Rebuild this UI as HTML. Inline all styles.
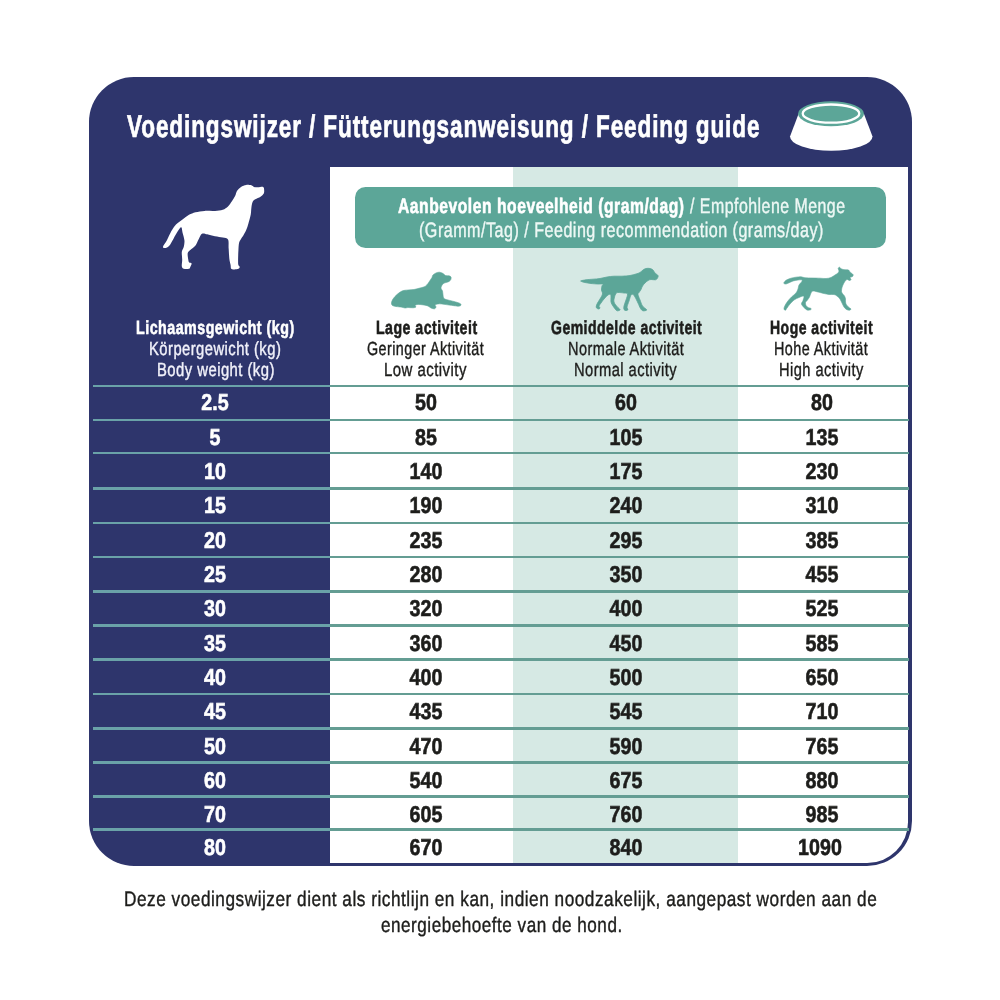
<!DOCTYPE html>
<html lang="nl"><head><meta charset="utf-8"><title>Voedingswijzer</title>
<style>
html,body{margin:0;padding:0;background:#fff}
body{width:1000px;height:1000px;position:relative;overflow:hidden;font-family:"Liberation Sans",sans-serif}
.card{position:absolute;left:88.6px;top:77.2px;width:823.2px;height:788.8px;background:#2e356c;border-radius:45px;overflow:hidden}
.white{position:absolute;left:241.2px;top:90.2px;width:578.4px;height:695.4px;background:#fff;border-bottom-right-radius:40.8px;overflow:hidden}
.mid{position:absolute;left:183.4px;top:0;width:224.6px;height:100%;background:#d6e9e4}
.banner{position:absolute;left:354.8px;top:187px;width:531.4px;height:61.3px;background:#5ca698;border-radius:10.5px}
.t{position:absolute;white-space:nowrap;text-rendering:geometricPrecision;line-height:1;height:1em;transform-origin:0 0}
.rows{position:absolute;left:0;top:0;width:1000px;height:1000px}
.row{position:absolute;left:93px;width:816px;height:34px}
.row i{position:absolute;left:0;top:0;width:100%;height:2.7px;background:linear-gradient(to right,#6aa2a8 0,#6aa2a8 236.8px,#649d93 236.8px)}
.nums{text-rendering:geometricPrecision;position:absolute;left:-93px;width:1000px;height:1em;font-size:23px;line-height:1;font-weight:700;color:#1d1d1b;-webkit-text-stroke:0.6px #1d1d1b}
.n{position:absolute;width:120px;text-align:center;transform:scaleX(0.855);transform-origin:50% 0;white-space:nowrap}
.n.c0{color:#fff;-webkit-text-stroke-color:#fff}
.art{position:absolute;left:0;top:0}
</style></head>
<body>
<div class="card"><div class="white"><div class="mid"></div></div></div>
<div class="banner"></div>
<svg class="art" width="1000" height="1000" viewBox="0 0 1000 1000">
<path fill="#fff" d="M163.0 246.7C163.2 245.4 165.5 242.8 166.9 240.2C168.3 237.6 169.9 233.7 171.4 231.1C173.0 228.5 174.2 226.5 176.0 224.6C177.8 222.7 180.3 221.0 182.5 219.4C184.7 217.8 186.8 216.0 189.0 214.8C191.2 213.7 192.9 212.9 195.5 212.2C198.1 211.6 201.3 211.2 204.6 210.9C207.8 210.7 212.0 211.2 215.0 210.9C218.0 210.7 220.6 210.4 222.8 209.7C225.0 208.9 226.5 207.8 228.0 206.4C229.5 205.0 230.7 202.9 231.9 201.2C233.1 199.5 234.3 197.7 235.1 196.0C236.0 194.3 236.1 192.3 237.1 190.8C238.1 189.3 239.5 187.9 241.0 186.9C242.5 185.9 244.5 185.2 246.2 184.9C247.9 184.7 250.1 185.0 251.4 185.3C252.7 185.7 252.9 186.6 254.0 186.9C255.1 187.2 256.4 187.3 257.9 187.3C259.4 187.3 262.1 186.5 263.1 186.9C264.1 187.3 264.0 188.4 264.1 189.5C264.2 190.6 264.4 192.2 263.8 193.4C263.1 194.6 261.9 195.7 260.5 196.7C259.1 197.6 256.6 198.4 255.3 199.2C254.0 200.1 253.3 200.4 252.7 201.8C252.0 203.3 251.7 205.6 251.4 207.7C251.1 209.8 251.2 211.8 250.8 214.2C250.3 216.6 249.5 219.6 248.8 222.0C248.2 224.4 247.7 226.3 246.8 228.5C246.0 230.7 244.6 233.3 243.6 235.0C242.6 236.7 241.8 237.6 241.0 238.9C240.2 240.2 239.5 240.9 239.1 242.8C238.6 244.8 238.6 247.6 238.4 250.6C238.2 253.6 238.1 258.6 238.1 261.0C238.1 263.4 238.1 263.9 238.4 264.9C238.7 265.9 239.7 266.2 239.7 266.9C239.7 267.5 239.3 268.4 238.4 268.8C237.5 269.2 235.7 269.4 234.5 269.4C233.3 269.4 231.9 269.6 231.2 268.8C230.6 268.0 230.9 266.6 230.6 264.9C230.3 263.2 229.6 261.2 229.3 258.4C229.0 255.6 228.9 251.1 228.6 248.0C228.4 244.9 229.0 241.3 228.0 239.6C227.0 237.8 225.0 238.1 222.8 237.6C220.6 237.1 217.6 236.8 215.0 236.3C212.4 235.8 209.4 234.8 207.2 234.3C205.0 233.9 203.4 232.9 202.0 233.7C200.6 234.5 199.8 236.9 198.8 238.9C197.7 240.8 196.9 243.6 195.5 245.4C194.1 247.2 191.6 248.6 190.3 249.9C189.0 251.2 188.0 251.6 187.7 253.2C187.4 254.8 188.1 258.2 188.3 259.7C188.6 261.2 188.5 261.6 189.0 262.3C189.5 263.0 191.4 262.8 191.6 263.6C191.8 264.4 190.7 266.0 190.3 266.9C189.9 267.7 190.1 268.5 189.0 268.8C187.9 269.1 185.0 269.2 183.8 268.8C182.6 268.4 182.1 267.7 181.8 266.2C181.6 264.7 182.2 262.1 182.2 259.7C182.2 257.3 181.6 254.1 181.8 251.9C182.1 249.7 183.4 248.6 183.8 246.7C184.2 244.8 184.7 242.6 184.4 240.2C184.2 237.8 183.0 234.6 182.5 232.4C182.0 230.2 182.0 227.4 181.2 227.2C180.4 227.0 179.2 229.2 177.9 231.1C176.6 233.0 174.8 236.5 173.4 238.9C172.0 241.3 170.8 243.9 169.5 245.4C168.2 246.9 166.7 247.8 165.6 248.0C164.5 248.2 162.8 248.0 163.0 246.7Z"/>
<path fill="#5ca698" stroke="#5ca698" stroke-width="0.6" stroke-linejoin="round" d="M391.5 303.0C391.6 301.9 392.1 300.4 393.0 299.0C393.9 297.6 395.5 295.8 397.0 294.5C398.5 293.2 400.2 291.8 402.0 291.0C403.8 290.2 406.0 290.2 408.0 290.0C410.0 289.8 412.0 289.8 414.0 289.5C416.0 289.2 418.2 288.5 420.0 288.0C421.8 287.5 423.7 287.2 425.0 286.5C426.3 285.8 427.2 284.5 428.0 283.5C428.8 282.5 429.3 281.5 430.0 280.5C430.7 279.5 431.5 278.4 432.0 277.5C432.5 276.6 432.3 275.8 433.0 275.0C433.7 274.2 434.9 273.5 436.0 273.0C437.1 272.5 438.3 272.1 439.5 272.2C440.7 272.3 442.0 272.9 443.0 273.5C444.0 274.1 444.5 275.1 445.5 275.5C446.5 275.9 448.1 275.6 449.0 275.8C449.9 276.1 450.7 276.4 451.0 277.0C451.3 277.6 451.1 278.8 450.8 279.5C450.5 280.2 450.0 280.9 449.0 281.5C448.0 282.1 446.1 282.3 445.0 282.8C443.9 283.3 443.2 283.6 442.5 284.5C441.8 285.4 441.0 286.9 441.0 288.0C441.0 289.1 442.2 289.8 442.5 291.0C442.8 292.2 442.8 293.8 443.0 295.0C443.2 296.2 443.2 297.7 444.0 298.5C444.8 299.3 446.3 299.5 448.0 300.0C449.7 300.5 452.2 301.0 454.0 301.5C455.8 302.0 457.8 302.5 459.0 303.0C460.2 303.5 460.9 304.0 461.0 304.5C461.1 305.0 460.7 305.9 459.5 306.1C458.3 306.3 455.8 305.9 454.0 305.7C452.2 305.5 450.7 305.2 449.0 305.0C447.3 304.8 445.6 304.5 444.0 304.3C442.4 304.1 441.0 303.7 439.5 303.8C438.0 303.9 435.8 304.3 435.2 304.8C434.6 305.3 436.1 306.3 436.0 307.0C435.9 307.7 435.3 308.6 434.5 308.8C433.7 309.0 432.1 308.5 431.0 308.0C429.9 307.5 429.2 306.5 428.0 306.0C426.8 305.5 425.3 305.2 424.0 305.0C422.7 304.8 421.2 304.6 420.0 304.5C418.8 304.4 417.8 304.3 417.0 304.5C416.2 304.7 415.2 305.1 415.0 305.5C414.8 305.9 416.3 306.6 416.0 307.0C415.7 307.4 414.3 307.7 413.0 307.8C411.7 307.9 409.3 307.5 408.0 307.5C406.7 307.5 406.2 308.1 405.0 308.0C403.8 307.9 402.5 307.2 401.0 307.0C399.5 306.8 397.4 306.8 396.0 306.5C394.6 306.2 393.2 306.1 392.5 305.5C391.8 304.9 391.4 304.1 391.5 303.0Z"/>
<path fill="#5ca698" stroke="#5ca698" stroke-width="0.8" stroke-linejoin="round" d="M581.0 280.8C581.8 280.5 584.0 280.1 586.0 279.8C588.0 279.5 590.7 279.4 593.0 279.2C595.3 279.0 597.7 278.9 600.0 278.5C602.3 278.1 604.7 277.4 607.0 277.0C609.3 276.6 611.5 276.3 614.0 276.2C616.5 276.1 619.3 276.3 622.0 276.2C624.7 276.1 627.7 275.9 630.0 275.5C632.3 275.1 634.3 274.5 636.0 274.0C637.7 273.5 638.8 273.2 640.0 272.5C641.2 271.8 642.0 270.7 643.0 270.0C644.0 269.3 644.8 268.8 646.0 268.5C647.2 268.2 648.8 268.2 650.0 268.5C651.2 268.8 652.2 269.2 653.0 270.0C653.8 270.8 654.2 272.1 655.0 273.0C655.8 273.9 657.6 274.7 658.0 275.5C658.4 276.3 657.9 277.3 657.5 278.0C657.1 278.7 656.6 279.6 655.5 279.8C654.4 280.1 652.2 279.4 651.0 279.5C649.8 279.6 649.0 279.9 648.0 280.5C647.0 281.1 645.9 282.1 645.0 283.0C644.1 283.9 643.2 284.9 642.5 286.0C641.8 287.1 641.6 288.4 641.0 289.5C640.4 290.6 639.5 291.7 639.0 292.5C638.5 293.3 637.8 293.2 638.0 294.5C638.2 295.8 639.2 298.1 640.0 300.0C640.8 301.9 641.5 304.5 642.5 306.0C643.5 307.5 645.3 308.3 646.0 309.0C646.7 309.7 647.0 309.9 646.5 310.2C646.0 310.5 644.0 311.1 643.0 310.8C642.0 310.5 641.3 309.8 640.5 308.5C639.7 307.2 638.9 304.9 638.0 303.0C637.1 301.1 635.8 298.4 635.0 297.0C634.2 295.6 633.7 294.8 633.0 294.5C632.3 294.2 631.7 293.9 631.0 295.0C630.3 296.1 629.7 299.0 629.0 301.0C628.3 303.0 627.2 305.6 627.0 307.0C626.8 308.4 628.2 308.9 628.0 309.5C627.8 310.1 626.7 310.5 626.0 310.5C625.3 310.5 624.3 310.2 624.0 309.5C623.7 308.8 623.7 307.6 624.0 306.0C624.3 304.4 625.4 302.0 626.0 300.0C626.6 298.0 627.8 295.2 627.5 294.0C627.2 292.8 625.6 293.2 624.0 293.0C622.4 292.8 619.3 292.4 618.0 292.5C616.7 292.6 616.6 292.8 616.0 293.5C615.4 294.2 614.8 295.6 614.5 297.0C614.2 298.4 613.6 300.4 614.0 302.0C614.4 303.6 616.0 305.2 617.0 306.5C618.0 307.8 619.7 308.8 620.0 309.5C620.3 310.2 619.6 310.3 619.0 310.5C618.4 310.7 617.5 311.2 616.5 310.5C615.5 309.8 613.9 307.4 613.0 306.0C612.1 304.6 611.3 303.5 611.0 302.0C610.7 300.5 611.1 298.2 611.0 297.0C610.9 295.8 611.0 294.8 610.5 294.5C610.0 294.2 609.1 294.2 608.0 295.0C606.9 295.8 605.2 297.7 604.0 299.0C602.8 300.3 601.8 301.8 601.0 303.0C600.2 304.2 599.2 305.2 599.0 306.0C598.8 306.8 600.1 307.5 600.0 308.0C599.9 308.5 599.1 309.1 598.5 309.0C597.9 308.9 596.5 308.3 596.2 307.5C596.0 306.7 596.4 305.4 597.0 304.0C597.6 302.6 599.1 300.7 600.0 299.0C600.9 297.3 602.2 295.5 602.5 294.0C602.8 292.5 601.6 291.3 601.5 290.0C601.4 288.7 601.8 287.0 602.0 286.0C602.2 285.0 603.7 284.3 603.0 284.0C602.3 283.7 600.0 284.1 598.0 284.0C596.0 283.9 593.2 283.8 591.0 283.5C588.8 283.2 586.6 282.8 585.0 282.5C583.4 282.2 582.2 281.8 581.5 281.5C580.8 281.2 580.2 281.1 581.0 280.8Z"/>
<path fill="#5ca698" stroke="#5ca698" stroke-width="0.6" stroke-linejoin="round" d="M784.0 282.5C784.4 281.9 785.3 280.7 786.5 280.0C787.7 279.3 789.4 278.7 791.0 278.2C792.6 277.7 794.3 277.4 796.0 277.2C797.7 277.0 799.5 276.7 801.0 276.8C802.5 276.9 803.2 277.6 805.0 277.8C806.8 278.0 809.5 277.9 812.0 278.0C814.5 278.1 817.7 278.1 820.0 278.2C822.3 278.3 824.2 278.6 826.0 278.5C827.8 278.4 829.5 278.1 831.0 277.5C832.5 276.9 833.8 275.8 835.0 275.0C836.2 274.2 837.3 273.7 838.0 273.0C838.7 272.3 839.0 271.8 839.0 271.0C839.0 270.2 838.1 269.1 838.2 268.5C838.3 267.9 839.0 267.1 839.5 267.2C840.0 267.3 840.6 268.6 841.5 269.0C842.4 269.4 843.8 269.6 845.0 269.8C846.2 270.0 847.7 269.6 848.5 270.0C849.3 270.4 849.2 271.2 850.0 272.0C850.8 272.8 852.6 273.8 853.0 274.5C853.4 275.2 853.0 276.0 852.5 276.5C852.0 277.0 850.2 277.0 850.0 277.5C849.8 278.0 851.1 279.0 851.0 279.5C850.9 280.0 850.2 280.5 849.5 280.5C848.8 280.5 847.8 279.2 847.0 279.5C846.2 279.8 845.2 280.9 844.5 282.0C843.8 283.1 843.0 284.7 842.5 286.0C842.0 287.3 841.6 288.8 841.5 290.0C841.4 291.2 841.5 292.0 842.0 293.0C842.5 294.0 843.9 295.0 844.5 296.0C845.1 297.0 845.3 298.0 845.5 299.0C845.7 300.0 845.3 301.0 845.5 302.0C845.7 303.0 845.9 304.1 846.5 305.0C847.1 305.9 848.2 306.8 849.0 307.5C849.8 308.2 850.9 308.6 851.0 309.0C851.1 309.4 850.2 310.1 849.5 310.2C848.8 310.3 847.4 310.0 846.5 309.5C845.6 309.0 844.8 308.1 844.0 307.0C843.2 305.9 842.7 304.3 842.0 303.0C841.3 301.7 840.8 300.2 840.0 299.0C839.2 297.8 838.0 296.8 837.0 296.0C836.0 295.2 835.3 294.8 834.0 294.5C832.7 294.2 830.7 294.7 829.0 294.5C827.3 294.3 825.8 293.9 824.0 293.5C822.2 293.1 819.8 292.4 818.0 292.0C816.2 291.6 814.2 290.8 813.0 291.0C811.8 291.2 811.6 292.0 811.0 293.0C810.4 294.0 810.1 295.8 809.5 297.0C808.9 298.2 808.2 299.1 807.5 300.0C806.8 300.9 805.8 301.6 805.5 302.5C805.2 303.4 805.6 304.7 806.0 305.5C806.4 306.3 807.2 307.0 808.0 307.5C808.8 308.0 810.6 308.1 811.0 308.5C811.4 308.9 811.2 309.6 810.5 309.8C809.8 310.1 808.1 310.4 807.0 310.0C805.9 309.6 804.9 308.5 804.0 307.5C803.1 306.5 801.7 305.2 801.5 304.0C801.3 302.8 802.6 301.7 803.0 300.5C803.4 299.3 804.0 297.8 804.0 297.0C804.0 296.2 803.8 295.9 803.0 296.0C802.2 296.1 800.5 296.8 799.0 297.5C797.5 298.2 795.5 298.9 794.0 300.0C792.5 301.1 791.2 302.7 790.0 304.0C788.8 305.3 787.8 307.0 787.0 308.0C786.2 309.0 786.0 310.0 785.5 310.2C785.0 310.4 784.1 309.7 784.0 309.0C783.9 308.3 784.2 307.2 784.8 306.0C785.4 304.8 786.4 303.0 787.5 301.5C788.6 300.0 790.1 298.4 791.5 297.0C792.9 295.6 794.9 294.3 796.0 293.0C797.1 291.7 797.5 290.3 798.0 289.0C798.5 287.7 798.4 286.2 799.0 285.0C799.6 283.8 801.0 282.8 801.5 282.0C802.0 281.2 802.6 280.3 802.0 280.0C801.4 279.7 799.5 279.8 798.0 280.0C796.5 280.2 794.5 280.5 793.0 281.0C791.5 281.5 790.2 282.3 789.0 282.8C787.8 283.3 786.8 283.9 786.0 284.0C785.2 284.1 784.3 283.8 784.0 283.5C783.7 283.2 783.6 283.1 784.0 282.5Z"/>
<g>
<path fill="#fff" d="M798.5 114 L790 136.4 A41.25 14.4 0 0 0 872.5 136.4 L864 114 Z"/>
<ellipse cx="831" cy="113.8" rx="33" ry="12.5" fill="#5ca698"/>
<ellipse cx="831" cy="113.6" rx="28.3" ry="9.1" fill="none" stroke="#fff" stroke-width="2.3"/>
</g>
</svg>
<div class="rows">
<div class="row" style="top:384px"><i style="top:0.65px"></i><div class="nums" style="top:7px"><span class="n c0" style="left:155px">2.5</span><span class="n c1" style="left:366px">50</span><span class="n c2" style="left:566px">60</span><span class="n c3" style="left:762px">80</span></div></div>
<div class="row" style="top:418px"><i style="top:0.75px"></i><div class="nums" style="top:8px"><span class="n c0" style="left:155px">5</span><span class="n c1" style="left:366px">85</span><span class="n c2" style="left:566px">105</span><span class="n c3" style="left:762px">135</span></div></div>
<div class="row" style="top:451px"><i style="top:0.75px"></i><div class="nums" style="top:9px"><span class="n c0" style="left:155px">10</span><span class="n c1" style="left:366px">140</span><span class="n c2" style="left:566px">175</span><span class="n c3" style="left:762px">230</span></div></div>
<div class="row" style="top:487px"><i style="top:0.25px"></i><div class="nums" style="top:7px"><span class="n c0" style="left:155px">15</span><span class="n c1" style="left:366px">190</span><span class="n c2" style="left:566px">240</span><span class="n c3" style="left:762px">310</span></div></div>
<div class="row" style="top:521px"><i style="top:0.55px"></i><div class="nums" style="top:8px"><span class="n c0" style="left:155px">20</span><span class="n c1" style="left:366px">235</span><span class="n c2" style="left:566px">295</span><span class="n c3" style="left:762px">385</span></div></div>
<div class="row" style="top:555px"><i style="top:0.75px"></i><div class="nums" style="top:8px"><span class="n c0" style="left:155px">25</span><span class="n c1" style="left:366px">280</span><span class="n c2" style="left:566px">350</span><span class="n c3" style="left:762px">455</span></div></div>
<div class="row" style="top:589px"><i style="top:0.95px"></i><div class="nums" style="top:8px"><span class="n c0" style="left:155px">30</span><span class="n c1" style="left:366px">320</span><span class="n c2" style="left:566px">400</span><span class="n c3" style="left:762px">525</span></div></div>
<div class="row" style="top:623px"><i style="top:0.95px"></i><div class="nums" style="top:9px"><span class="n c0" style="left:155px">35</span><span class="n c1" style="left:366px">360</span><span class="n c2" style="left:566px">450</span><span class="n c3" style="left:762px">585</span></div></div>
<div class="row" style="top:658px"><i style="top:0.35px"></i><div class="nums" style="top:8px"><span class="n c0" style="left:155px">40</span><span class="n c1" style="left:366px">400</span><span class="n c2" style="left:566px">500</span><span class="n c3" style="left:762px">650</span></div></div>
<div class="row" style="top:692px"><i style="top:0.75px"></i><div class="nums" style="top:8px"><span class="n c0" style="left:155px">45</span><span class="n c1" style="left:366px">435</span><span class="n c2" style="left:566px">545</span><span class="n c3" style="left:762px">710</span></div></div>
<div class="row" style="top:726px"><i style="top:0.95px"></i><div class="nums" style="top:9px"><span class="n c0" style="left:155px">50</span><span class="n c1" style="left:366px">470</span><span class="n c2" style="left:566px">590</span><span class="n c3" style="left:762px">765</span></div></div>
<div class="row" style="top:760px"><i style="top:0.95px"></i><div class="nums" style="top:9px"><span class="n c0" style="left:155px">60</span><span class="n c1" style="left:366px">540</span><span class="n c2" style="left:566px">675</span><span class="n c3" style="left:762px">880</span></div></div>
<div class="row" style="top:795px"><i style="top:0.35px"></i><div class="nums" style="top:8px"><span class="n c0" style="left:155px">70</span><span class="n c1" style="left:366px">605</span><span class="n c2" style="left:566px">760</span><span class="n c3" style="left:762px">985</span></div></div>
<div class="row" style="top:828px"><i style="top:0.45px"></i><div class="nums" style="top:8px"><span class="n c0" style="left:155px">80</span><span class="n c1" style="left:366px">670</span><span class="n c2" style="left:566px">840</span><span class="n c3" style="left:759.6px">1090</span></div></div>
</div>
<div class="t title" style="left:127.44px;top:111px;font-size:31.3px;font-weight:700;color:#fff;-webkit-text-stroke:0.7px #fff;letter-spacing:1.2px;transform:scaleX(0.7219)">Voedingswijzer / Fütterungsanweisung / Feeding guide</div>
<div class="t b1" style="left:397.61px;top:196px;font-size:21px;font-weight:700;color:#fff;-webkit-text-stroke:0.6px #fff;letter-spacing:0.74px;transform:scaleX(0.7441)">Aanbevolen hoeveelheid (gram/dag)</div>
<div class="t b1r" style="left:689.65px;top:196px;font-size:21px;font-weight:400;color:#eef8f5;-webkit-text-stroke:0.4px #eef8f5;letter-spacing:0.63px;transform:scaleX(0.7582)">/ Empfohlene Menge</div>
<div class="t b2" style="left:419.39px;top:220px;font-size:21px;font-weight:400;color:#eef8f5;-webkit-text-stroke:0.4px #eef8f5;letter-spacing:0.63px;transform:scaleX(0.7677)">(Gramm/Tag) / Feeding recommendation (grams/day)</div>
<div class="t " style="left:136.10px;top:319px;font-size:19px;font-weight:700;color:#fff;-webkit-text-stroke:0.6px #fff;letter-spacing:0.67px;transform:scaleX(0.7486)">Lichaamsgewicht (kg)</div>
<div class="t " style="left:149.37px;top:340px;font-size:19px;font-weight:400;color:#f1f1fa;-webkit-text-stroke:0.4px #f1f1fa;letter-spacing:0.57px;transform:scaleX(0.7794)">Körpergewicht (kg)</div>
<div class="t " style="left:156.57px;top:361px;font-size:19px;font-weight:400;color:#f1f1fa;-webkit-text-stroke:0.4px #f1f1fa;letter-spacing:0.57px;transform:scaleX(0.7823)">Body weight (kg)</div>
<div class="t " style="left:375.56px;top:319px;font-size:19px;font-weight:700;color:#1d1d1b;-webkit-text-stroke:0.6px #1d1d1b;letter-spacing:0.67px;transform:scaleX(0.7428)">Lage activiteit</div>
<div class="t " style="left:367.43px;top:340px;font-size:19px;font-weight:400;color:#1d1d1b;-webkit-text-stroke:0.4px #1d1d1b;letter-spacing:0.57px;transform:scaleX(0.7558)">Geringer Aktivität</div>
<div class="t " style="left:384.46px;top:361px;font-size:19px;font-weight:400;color:#1d1d1b;-webkit-text-stroke:0.4px #1d1d1b;letter-spacing:0.57px;transform:scaleX(0.7886)">Low activity</div>
<div class="t " style="left:550.91px;top:319px;font-size:19px;font-weight:700;color:#1d1d1b;-webkit-text-stroke:0.6px #1d1d1b;letter-spacing:0.67px;transform:scaleX(0.7370)">Gemiddelde activiteit</div>
<div class="t " style="left:567.74px;top:340px;font-size:19px;font-weight:400;color:#1d1d1b;-webkit-text-stroke:0.4px #1d1d1b;letter-spacing:0.57px;transform:scaleX(0.7638)">Normale Aktivität</div>
<div class="t " style="left:573.98px;top:361px;font-size:19px;font-weight:400;color:#1d1d1b;-webkit-text-stroke:0.4px #1d1d1b;letter-spacing:0.57px;transform:scaleX(0.7741)">Normal activity</div>
<div class="t " style="left:770.31px;top:319px;font-size:19px;font-weight:700;color:#1d1d1b;-webkit-text-stroke:0.6px #1d1d1b;letter-spacing:0.67px;transform:scaleX(0.7367)">Hoge activiteit</div>
<div class="t " style="left:774.40px;top:340px;font-size:19px;font-weight:400;color:#1d1d1b;-webkit-text-stroke:0.4px #1d1d1b;letter-spacing:0.57px;transform:scaleX(0.7582)">Hohe Aktivität</div>
<div class="t " style="left:778.98px;top:361px;font-size:19px;font-weight:400;color:#1d1d1b;-webkit-text-stroke:0.4px #1d1d1b;letter-spacing:0.57px;transform:scaleX(0.7712)">High activity</div>
<div class="t " style="left:123.79px;top:889px;font-size:21px;font-weight:400;color:#1d1d1b;-webkit-text-stroke:0.4px #1d1d1b;letter-spacing:0.63px;transform:scaleX(0.8203)">Deze voedingswijzer dient als richtlijn en kan, indien noodzakelijk, aangepast worden aan de</div>
<div class="t " style="left:380.68px;top:915px;font-size:21px;font-weight:400;color:#1d1d1b;-webkit-text-stroke:0.4px #1d1d1b;letter-spacing:0.63px;transform:scaleX(0.8145)">energiebehoefte van de hond.</div>
</body></html>
